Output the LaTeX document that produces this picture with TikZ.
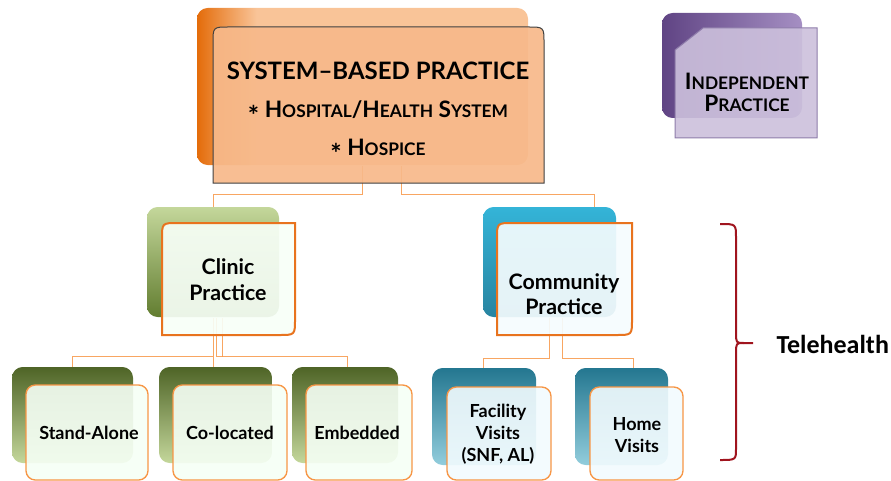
\documentclass[tikz,border=0pt]{standalone}
\usepackage{fontspec}
\setmainfont{Lato}
\newfontfamily\calibri{Carlito}
\usetikzlibrary{calc}

\definecolor{sbpdark}{RGB}{228,108,10}
\definecolor{sbplight}{RGB}{249,196,152}
\definecolor{sbpface}{RGB}{247,185,138}
\definecolor{inddark}{RGB}{96,68,132}
\definecolor{indlight}{RGB}{165,143,195}
\definecolor{indface}{RGB}{204,192,220}
\definecolor{indline}{RGB}{142,124,170}
\definecolor{greenlight}{RGB}{196,215,155}
\definecolor{greendark}{RGB}{98,125,48}
\definecolor{bluelight}{RGB}{146,205,220}
\definecolor{bluedark}{RGB}{40,132,160}
\definecolor{bluetop}{RGB}{52,180,216}
\definecolor{linkorange}{RGB}{247,150,70}
\definecolor{edgeorange}{RGB}{232,115,30}
\definecolor{bracered}{RGB}{160,20,30}

% dark strip on the left, light everywhere else
\pgfdeclarehorizontalshading{sbpshade}{100bp}{color(0bp)=(sbpdark); color(25bp)=(sbpdark); color(34bp)=(sbplight); color(100bp)=(sbplight)}

\tikzset{every picture/.style={line width=0.75pt}}
\tikzset{
  backbox/.style={draw=none, rounded corners=8pt, inner sep=0pt},
  link/.style={draw=linkorange, line width=0.75pt, draw opacity=0.85},
  midface/.style={draw=edgeorange, line width=1.5pt, fill opacity=0.92},
  leafface/.style={draw=linkorange, line width=1pt, rounded corners=7pt, fill opacity=0.9},
  lbl/.style={align=center, inner sep=0.75pt, font=\bfseries\fontsize{16}{19}\selectfont},
  leaflbl/.style={align=center, inner sep=0.75pt, font=\bfseries\fontsize{13.5}{16.5}\selectfont},
}
\newcommand{\fakesc}[2]{{\fontsize{17}{20}\selectfont #1}{\fontsize{13}{20}\selectfont #2}}
\newcommand{\bulletstar}{{\fontsize{20}{20}\selectfont\raisebox{-0.3em}{*}}}

\begin{document}
\begin{tikzpicture}[x=0.75pt,y=0.75pt,yscale=-1,xscale=1]
\useasboundingbox (0,0) rectangle (891,481);

%Back boxes
\node[backbox, shading=sbpshade, minimum width=248.25pt, minimum height=117.75pt] (sbpback) at (362.5,86.5) {};
\node[backbox, left color=inddark, right color=indlight, minimum width=105pt, minimum height=78.75pt] (indback) at (732,65.5) {};
\node[backbox, top color=greenlight, bottom color=greendark, minimum width=99pt, minimum height=82.5pt] (clinicback) at (213,262) {};
\node[backbox, top color=bluetop, bottom color=bluedark, minimum width=99.75pt, minimum height=82.5pt] (commback) at (549.5,262) {};
\node[backbox, top color=greendark!80!black, bottom color=greenlight, minimum width=90.75pt, minimum height=72pt] (saback) at (72.5,415) {};
\node[backbox, top color=greendark!80!black, bottom color=greenlight, minimum width=84.75pt, minimum height=72pt] (clback) at (215.5,415) {};
\node[backbox, top color=greendark!80!black, bottom color=greenlight, minimum width=79.5pt, minimum height=72pt] (emback) at (345,415) {};
\node[backbox, top color=bluedark!90!black, bottom color=bluelight, minimum width=78pt, minimum height=72.75pt] (fvback) at (484,416.5) {};
\node[backbox, top color=bluedark!90!black, bottom color=bluelight, minimum width=69.75pt, minimum height=72.75pt] (hvback) at (621.5,416.5) {};

%Connectors
\draw[link] (sbpback.south) -- ++(0,29) -| (clinicback.north);
\draw[link] ($(sbpback.south)+(39,0)$) -- ++(0,29) -| ($(commback.north)+(44.5,0)$);
\draw[link] (clinicback.south) -- (clinicback.south |- clback.north);
\draw[link] (clinicback.south) ++(0,39) -| (saback.north);
\draw[link] ($(clinicback.south)+(3,0)$) -- ++(0,39) -| ($(emback.north)+(2,0)$);
\draw[link] ($(clinicback.south)+(9,0)$) -- ++(0,39);
\draw[link] (commback.south) -- ++(0,41) -| ($(fvback.north)+(-1,0)$);
\draw[link] ($(commback.south)+(12.5,0)$) -- ++(0,41) -| ($(hvback.north)+(11.5,0)$);

%Shape: System-based practice
\draw[draw=black!75, fill=sbpface, fill opacity=0.92] (213,183) -- (213,43) .. controls (213,27) .. (229,27) -- (528,27) .. controls (544,27) .. (544,43) -- (544,183) -- cycle;
%Shape: Independent practice
\draw[draw=indline, fill=indface, fill opacity=0.9] (675,138) -- (675,50) -- (703,28) -- (817,28) -- (817,138) -- cycle;
%Shape: Clinic practice
\draw[midface, fill=white!97!green] (162,335) -- (162,239) .. controls (162,223) .. (178,223) -- (295,223) -- (295,319) .. controls (295,335) .. (279,335) -- cycle;
%Shape: Community practice
\draw[midface, fill=white!96!cyan] (497,335) -- (497,239) .. controls (497,223) .. (513,223) -- (632,223) -- (632,319) .. controls (632,335) .. (616,335) -- cycle;
%Shape: leaves
\draw[leafface, fill=white!96!green] (26,385) rectangle (148,480);
\draw[leafface, fill=white!96!green] (173,385) rectangle (287,480);
\draw[leafface, fill=white!96!green] (306,385) rectangle (412,480);
\draw[leafface, fill=white!95!cyan] (447,387) rectangle (551,480);
\draw[leafface, fill=white!95!cyan] (590,387) rectangle (683,480);

%Brace
\draw[draw=bracered, line width=1.5pt] (720,224) .. controls (736,224) .. (736,238) -- (736,332) .. controls (736,343) .. (744,343) -- (753,343);
\draw[draw=bracered, line width=1.5pt] (744,343) .. controls (736,343) .. (736,354) -- (736,448) .. controls (736,460) .. (720,460);

% Text Node
\node[align=center, inner sep=0.75pt, font=\bfseries\fontsize{17}{28.5}\selectfont] (sbp) at (378,113) {{\fontsize{18}{28.5}\selectfont SYSTEM–BASED PRACTICE}\\
  \bulletstar\ \fakesc{H}{OSPITAL}/\fakesc{H}{EALTH} \fakesc{S}{YSTEM}\\
  \bulletstar\ \fakesc{H}{OSPICE}};
% Text Node
\node[align=center, inner sep=0.75pt, font=\bfseries\fontsize{17}{16}\selectfont] (ind) at (747,92.5) {\fakesc{I}{NDEPENDENT}\\\fakesc{P}{RACTICE}};
% Text Node
\node[lbl] (clinic) at (228,279.5) {Clinic\\Practice};
% Text Node
\node[lbl] (comm) at (564,294) {Community\\Practice};
% Text Node
\node[leaflbl] (sa) at (89,433) {Stand-Alone};
% Text Node
\node[leaflbl] (cl) at (230,433) {Co-located};
% Text Node
\node[leaflbl] (em) at (357,433) {Embedded};
% Text Node
\node[leaflbl] (fv) at (498,434) {Facility\\Visits\\(SNF, AL)};
% Text Node
\node[leaflbl] (hv) at (637,435) {Home\\Visits};
% Text Node
\node[anchor=west, inner sep=0.75pt, font=\calibri\bfseries\fontsize{19.5}{22}\selectfont] (tele) at (775,344) {Telehealth};

\end{tikzpicture}
\end{document}
